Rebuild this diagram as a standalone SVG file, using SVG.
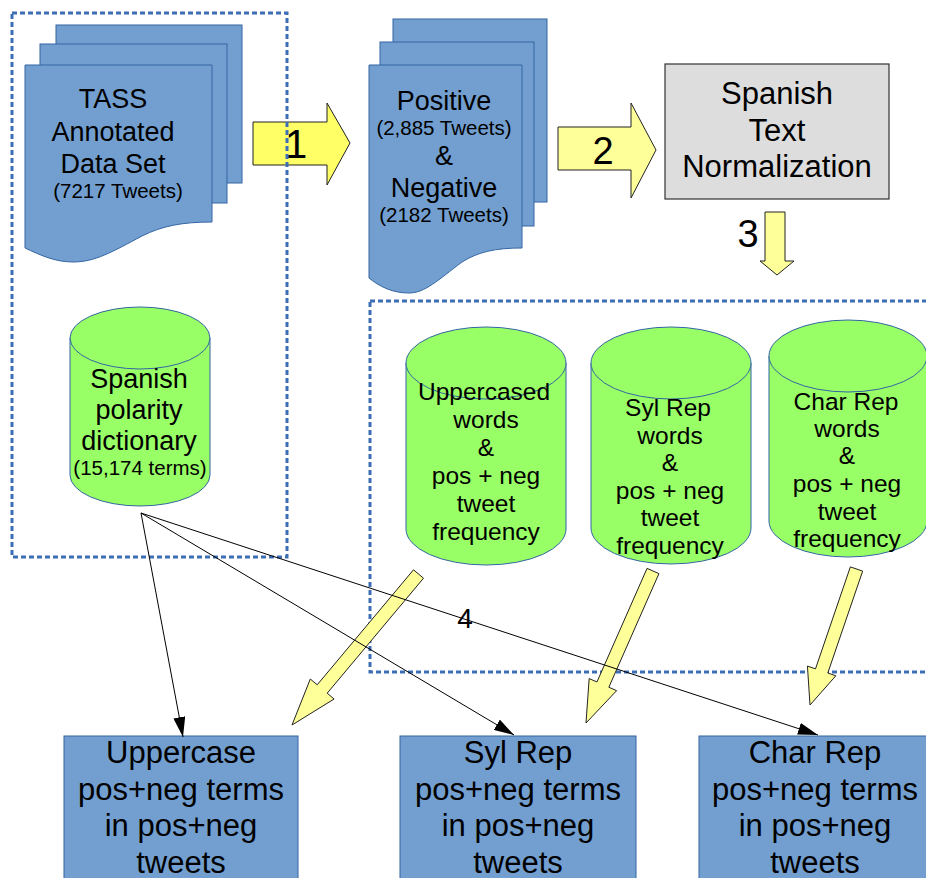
<svg xmlns="http://www.w3.org/2000/svg" width="926" height="878" viewBox="0 0 926 878">
  <style>
    text { font-family: "Liberation Sans", Arial, sans-serif; fill: #000; text-anchor: middle; }
    .doc { fill: #729fcf; stroke: #3465a4; stroke-width: 1; }
    .cyl { fill: #99ff66; stroke: #3465a4; stroke-width: 1; }
    .box { fill: #729fcf; stroke: #3465a4; stroke-width: 1; }
    .proc { fill: #dddddd; stroke: #333333; stroke-width: 1.2; }
    .group { fill: none; stroke: #3c6eb4; stroke-width: 3; stroke-dasharray: 5 3; }
    .step { fill: #ffff99; stroke: #222; stroke-width: 1; stroke-linejoin: miter; }
    .step-strong { fill: #ffff66; stroke: #222; stroke-width: 1; }
    .link { fill: none; stroke: #000; stroke-width: 1; marker-end: url(#head); }
    .big { font-size: 27px; }
    .small { font-size: 20.5px; }
    .mid { font-size: 24.5px; }
    .out { font-size: 31px; }
    .num { font-size: 38px; }
  </style>
  <defs>
    <marker id="head" markerUnits="userSpaceOnUse" markerWidth="20" markerHeight="12" refX="20" refY="6" orient="auto">
      <path d="M0,0 L20,6 L0,12 Z" fill="#000"/>
    </marker>
  </defs>

  <!-- step 1 arrow sits under the dashed group outline -->
  <g id="step1">
    <polygon class="step-strong" points="253,122 327,122 327,103 350,143 327,185 327,165 253,165"/>
    <text class="num" x="296" y="158" style="font-size:40px">1</text>
  </g>

  <!-- input group outline -->
  <rect id="input-group" class="group" x="12" y="13" width="275" height="544"/>
  <!-- normalized word stores outline -->
  <rect id="stores-group" class="group" x="370" y="301" width="580" height="371"/>

  <!-- TASS annotated data set (stacked documents) -->
  <g id="tass">
    <rect class="doc" x="56" y="25" width="186" height="158"/>
    <rect class="doc" x="40" y="44" width="187" height="159"/>
    <path class="doc" d="M25,65 H212 V222 C182,222 162,226 142,236 C112,252 95,262 73,262 C55,262 40,255 25,248 Z"/>
    <text class="big" x="113" y="108">TASS</text>
    <text class="big" x="113" y="141">Annotated</text>
    <text class="big" x="113" y="173">Data Set</text>
    <text class="small" x="118" y="198">(7217 Tweets)</text>
  </g>

  <!-- positive and negative tweets (stacked documents) -->
  <g id="posneg">
    <rect class="doc" x="393" y="19" width="154" height="183"/>
    <rect class="doc" x="380" y="42" width="154" height="184"/>
    <path class="doc" d="M369,65 H522 V248 C495,248 478,252 462,262 C438,280 425,293 409,293 C393,293 380,287 369,278 Z"/>
    <text class="big" x="444" y="110">Positive</text>
    <text class="small" x="444" y="135">(2,885 Tweets)</text>
    <text class="big" x="444" y="165">&amp;</text>
    <text class="big" x="444" y="197">Negative</text>
    <text class="small" x="444" y="222">(2182 Tweets)</text>
  </g>

  <!-- step 2 arrow -->
  <g id="step2">
    <polygon class="step" points="558,127 631,127 631,103 656,150 631,198 631,170 558,170"/>
    <text class="num" x="603" y="164">2</text>
  </g>

  <!-- normalization process -->
  <g id="normalization">
    <rect class="proc" x="665" y="64" width="224" height="135"/>
    <text class="out" x="777" y="104">Spanish</text>
    <text class="out" x="777" y="141">Text</text>
    <text class="out" x="777" y="177">Normalization</text>
  </g>

  <!-- step 3 arrow -->
  <g id="step3">
    <polygon class="step" points="765,212 785,212 785,261 794,261 777,275 760,261 765,261"/>
    <text class="num" x="748" y="247">3</text>
  </g>

  <!-- polarity dictionary -->
  <g id="dictionary">
    <path class="cyl" d="M70,338 V475 A70,31 0 0 0 210,475 V338 Z"/>
    <ellipse class="cyl" cx="140" cy="338" rx="70" ry="31"/>
    <text class="big" x="139" y="388">Spanish</text>
    <text class="big" x="139" y="419">polarity</text>
    <text class="big" x="139" y="450">dictionary</text>
    <text class="small" x="140" y="475">(15,174 terms)</text>
  </g>

  <!-- word stores -->
  <g id="store-uppercase">
    <path class="cyl" d="M406,363 V529 A80,36 0 0 0 566,529 V363 Z"/>
    <ellipse class="cyl" cx="486" cy="363" rx="80" ry="36"/>
    <text class="mid" x="484" y="400">Uppercased</text>
    <text class="mid" x="486" y="428">words</text>
    <text class="mid" x="486" y="456">&amp;</text>
    <text class="mid" x="486" y="484">pos + neg</text>
    <text class="mid" x="486" y="512">tweet</text>
    <text class="mid" x="486" y="540">frequency</text>
  </g>
  <g id="store-sylrep">
    <path class="cyl" d="M591,363 V528 A80,36 0 0 0 751,528 V363 Z"/>
    <ellipse class="cyl" cx="671" cy="363" rx="80" ry="36"/>
    <text class="mid" x="668" y="416">Syl Rep</text>
    <text class="mid" x="670" y="443.5">words</text>
    <text class="mid" x="670" y="471">&amp;</text>
    <text class="mid" x="670" y="498.5">pos + neg</text>
    <text class="mid" x="670" y="526">tweet</text>
    <text class="mid" x="670" y="553.5">frequency</text>
  </g>
  <g id="store-charrep">
    <path class="cyl" d="M769,356 V521 A79,36 0 0 0 927,521 V356 Z"/>
    <ellipse class="cyl" cx="848" cy="356" rx="79" ry="36"/>
    <text class="mid" x="846" y="410">Char Rep</text>
    <text class="mid" x="847" y="437">words</text>
    <text class="mid" x="847" y="464">&amp;</text>
    <text class="mid" x="847" y="492">pos + neg</text>
    <text class="mid" x="847" y="520">tweet</text>
    <text class="mid" x="847" y="547">frequency</text>
  </g>

  <!-- result boxes -->
  <g id="result-uppercase">
    <rect class="box" x="64" y="736" width="234" height="160"/>
    <text class="out" x="181" y="763">Uppercase</text>
    <text class="out" x="181" y="799.5">pos+neg terms</text>
    <text class="out" x="181" y="836">in pos+neg</text>
    <text class="out" x="181" y="872.5">tweets</text>
  </g>
  <g id="result-sylrep">
    <rect class="box" x="400" y="736" width="236" height="160"/>
    <text class="out" x="518" y="763">Syl Rep</text>
    <text class="out" x="518" y="799.5">pos+neg terms</text>
    <text class="out" x="518" y="836">in pos+neg</text>
    <text class="out" x="518" y="872.5">tweets</text>
  </g>
  <g id="result-charrep">
    <rect class="box" x="699" y="736" width="240" height="160"/>
    <text class="out" x="815" y="763">Char Rep</text>
    <text class="out" x="815" y="799.5">pos+neg terms</text>
    <text class="out" x="815" y="836">in pos+neg</text>
    <text class="out" x="815" y="872.5">tweets</text>
  </g>

  <!-- connectors: store-to-result block arrows, then dictionary links -->
  <g id="connectors">
    <polygon class="step" points="423.5,578.2 327.2,693.2 334.1,699 292,725 310.3,679 317.2,684.8 413.5,569.8"/>
    <polygon class="step" points="658.95,573.62 608.85,687.22 616.63,690.65 586,723 589.17,678.55 596.95,681.98 647.05,568.38"/>
    <polygon class="step" points="862.65,571.1 827.8,673.03 835.85,675.78 810,705 807.45,666.08 815.5,668.83 850.35,566.9"/>
    <line class="link" x1="141" y1="513" x2="183" y2="737"/>
    <line class="link" x1="141" y1="513" x2="514" y2="735"/>
    <line class="link" x1="141" y1="513" x2="818" y2="735"/>
    <text x="465" y="628" style="font-size:28px">4</text>
  </g>
</svg>
